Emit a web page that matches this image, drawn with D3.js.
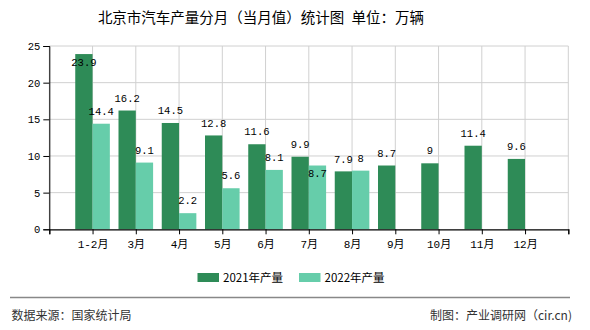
<!DOCTYPE html>
<html><head><meta charset="utf-8">
<script src="https://cdn.jsdelivr.net/npm/d3@7"></script>
<style>body{margin:0;background:#fff}svg{display:block}</style>
</head><body>
<svg id="c" width="590" height="330"></svg>
<script>
const categories = ["1-2月","3月","4月","5月","6月","7月","8月","9月","10月","11月","12月"];
const series2021 = [23.9,16.2,14.5,12.8,11.6,9.9,7.9,8.7,9,11.4,9.6];
const series2022 = [14.4,9.1,2.2,5.6,8.1,8.7,8];
const seriesNames = ["2021年产量","2022年产量"];
const yTicks = [0,5,10,15,20,25];
const titleMain = "北京市汽车产量分月（当月值）统计图";
const titleUnit = " 单位：万辆";
const sourceText = "数据来源：国家统计局";
const creditText = "制图：产业调研网（cir.cn)";

const colors = ["#2e8b57","#66cdaa"];
const svg = d3.select("#c");
const L = 49.3, R = 568.3, T = 46, B = 229.3;
const x = d3.scaleLinear().domain([0, categories.length + 1]).range([L, R]);
const y = d3.scaleLinear().domain([0, 25]).range([B, T]);
const step = x(1) - x(0);
const bw = step * 0.4;
const mono = "'Liberation Mono','Noto Sans CJK SC',monospace";
const cjk = "'Noto Sans CJK SC',sans-serif";

// grid
const gx = d3.range(0, categories.length + 2);
svg.append("g").selectAll("line").data(gx).join("line")
  .attr("x1", d => x(d)).attr("x2", d => x(d)).attr("y1", T).attr("y2", B)
  .attr("stroke", "#d0d0d0").attr("stroke-width", 1);
svg.append("g").selectAll("line").data(yTicks.filter(d => d > 0)).join("line")
  .attr("x1", L).attr("x2", R).attr("y1", d => y(d)).attr("y2", d => y(d))
  .attr("stroke", "#d0d0d0").attr("stroke-width", 1);

// bars
svg.append("g").selectAll("rect").data(series2021).join("rect")
  .attr("x", (d, i) => x(i + 1) - bw).attr("width", bw)
  .attr("y", d => y(d)).attr("height", d => B - y(d)).attr("fill", colors[0]);
svg.append("g").selectAll("rect").data(series2022).join("rect")
  .attr("x", (d, i) => x(i + 1)).attr("width", bw)
  .attr("y", d => y(d)).attr("height", d => B - y(d)).attr("fill", colors[1]);

// axes
const yAxis = d3.axisLeft(y).tickValues(yTicks).tickSize(6).tickPadding(3);
const ya = svg.append("g").attr("transform", `translate(${L},0)`).call(yAxis);
ya.select(".domain").attr("stroke", "#000");
ya.selectAll(".tick line").attr("stroke", "#000");
ya.selectAll("text").attr("font-family", mono).attr("font-size", 10.5).attr("fill", "#000");

const xAxis = d3.axisBottom(x).tickValues(gx).tickSize(5).tickFormat(d => (d >= 1 && d <= categories.length) ? categories[d - 1] : "");
const xa = svg.append("g").attr("transform", `translate(0,${B})`).call(xAxis);
xa.select(".domain").attr("stroke", "#000").attr("stroke-width", 1.2);
xa.selectAll(".tick line").attr("stroke", "#000");
xa.selectAll("text").attr("font-family", mono).attr("font-size", 11).attr("fill", "#000").attr("dy", "0.95em");

// value labels
const cw = 6, lh = 12;
function box(cx, cy, t) { const w = String(t).length * cw; return [cx - w / 2, cy - lh / 2, cx + w / 2, cy + lh / 2]; }
function overlap(a, b) { return a[0] < b[2] && b[0] < a[2] && a[1] < b[3] && b[1] < a[3]; }
const labels = [];
const darkBoxes = [];
series2021.forEach((v, i) => {
  const cx = x(i + 1) - bw / 2;
  let cy = y(v) - 12.5;
  if (cy - lh / 2 < T) cy = y(v) + 8;
  darkBoxes[i] = box(cx, cy, v);
  labels.push({cx, cy, t: v});
});
series2022.forEach((v, i) => {
  const cx = x(i + 1) + bw / 2;
  let cy = y(v) - 12.5;
  if (cy - lh / 2 < T || (darkBoxes[i] && overlap(box(cx, cy, v), darkBoxes[i]))) cy = y(v) + 8;
  labels.push({cx, cy, t: v});
});
svg.append("g").selectAll("text").data(labels).join("text")
  .attr("x", d => d.cx).attr("y", d => d.cy).attr("dy", "0.35em")
  .attr("text-anchor", "middle").attr("font-family", mono).attr("font-size", 10.5)
  .attr("fill", "#000").text(d => d.t);

// title
const tt = svg.append("text").attr("x", 261).attr("y", 17.5).attr("dy", "0.36em").attr("text-anchor", "middle")
  .attr("font-family", cjk).attr("font-size", 14.5).attr("fill", "#000");
tt.append("tspan").text(titleMain);
tt.append("tspan").attr("dx", 4).text(titleUnit);

// legend
const lg = svg.append("g");
const legX = [197.5, 299];
seriesNames.forEach((n, i) => {
  lg.append("rect").attr("x", legX[i]).attr("y", 273).attr("width", 21.5).attr("height", 9).attr("fill", colors[i]);
  lg.append("text").attr("x", legX[i] + 25.5).attr("y", 277.5).attr("dy", "0.36em")
    .attr("font-family", cjk).attr("font-size", 11.5).attr("fill", "#000").text(n);
});

// footer
svg.append("line").attr("x1", 10).attr("x2", 570).attr("y1", 297.5).attr("y2", 297.5)
  .attr("stroke", "#888").attr("stroke-width", 1.3);
svg.append("text").attr("x", 11.5).attr("y", 316).attr("dy", "0.36em")
  .attr("font-family", cjk).attr("font-size", 12).attr("fill", "#333").text(sourceText);
svg.append("text").attr("x", 572).attr("y", 316).attr("dy", "0.36em").attr("text-anchor", "end")
  .attr("font-family", cjk).attr("font-size", 12).attr("fill", "#333").text(creditText);
</script>
</body></html>
